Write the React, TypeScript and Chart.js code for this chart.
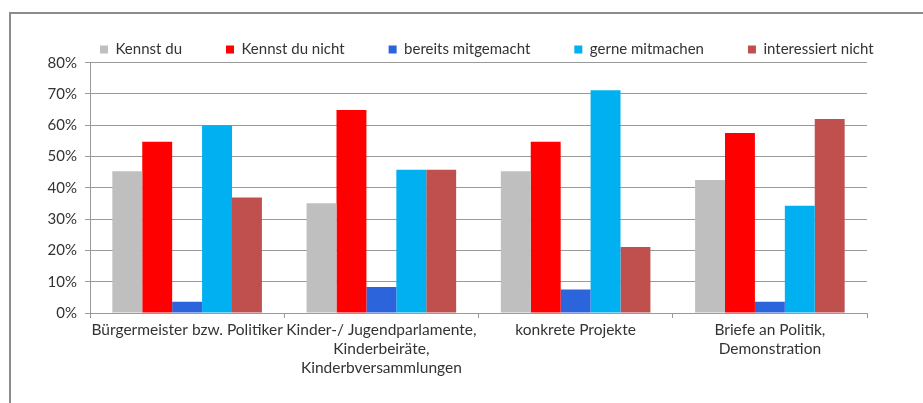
import React, { useEffect, useRef } from "react";
import { Chart, registerables } from "chart.js";

Chart.register(...registerables);

const categories: (string | string[])[] = [
  "Bürgermeister bzw. Politiker",
  ["Kinder-/ Jugendparlamente,", "Kinderbeiräte,", "Kinderbversammlungen"],
  "konkrete Projekte",
  ["Briefe an Politik,", "Demonstration"],
];

const kennstDu = [45.3, 35.1, 45.3, 42.5];
const kennstDuNicht = [54.7, 64.9, 54.7, 57.5];
const bereitsMitgemacht = [3.6, 8.3, 7.5, 3.6];
const gerneMitmachen = [60.0, 45.8, 71.2, 34.3];
const interessiertNicht = [36.9, 45.8, 21.1, 62.0];

const seriesNames = ["Kennst du", "Kennst du nicht", "bereits mitgemacht", "gerne mitmachen", "interessiert nicht"];
const seriesColors = ["#BFBFBF", "#FF0000", "#2C64DC", "#00B0F0", "#C0504D"];

const FONT = "Lato, 'Open Sans', sans-serif";
const TEXT = "#333333";
const GRID = "#9a9a9a";

const framePlugin = {
  id: "frame",
  beforeDraw(chart: any) {
    const ctx = chart.ctx;
    ctx.save();
    ctx.fillStyle = "#ffffff";
    ctx.fillRect(0, 0, chart.width, chart.height);
    ctx.strokeStyle = "#8c8c8c";
    ctx.lineWidth = 2;
    ctx.beginPath();
    ctx.moveTo(10, chart.height);
    ctx.lineTo(10, 13);
    ctx.lineTo(chart.width, 13);
    ctx.stroke();
    ctx.restore();
  },
  beforeLayout(chart: any) {
    const lg = chart.legend;
    if (lg && !lg.__patched) {
      const f = lg.fit;
      lg.fit = function () {
        const mw = this.maxWidth;
        this.maxWidth = 5000;
        f.call(this);
        this.maxWidth = mw;
        this.width = Math.min(this.width, mw);
        this.height = 64.7;
      };
      lg.__patched = true;
    }
  },
  afterLayout(chart: any) {
    const lg = chart.legend;
    if (lg) {
      lg.left = 56;
      lg.right = 5000;
    }
  },
};

export default function App() {
  const ref = useRef<HTMLCanvasElement | null>(null);
  useEffect(() => {
    if (!ref.current) return;
    const data = [kennstDu, kennstDuNicht, bereitsMitgemacht, gerneMitmachen, interessiertNicht];
    const chart = new Chart(ref.current, {
      type: "bar",
      data: {
        labels: categories as any,
        datasets: data.map((d, i) => ({
          label: seriesNames[i],
          data: d,
          backgroundColor: seriesColors[i],
          borderWidth: 0,
          categoryPercentage: 0.77,
          barPercentage: 1.0,
        })),
      },
      options: {
        animation: false,
        responsive: false,
        devicePixelRatio: 1,
        layout: { padding: { left: 38, right: 56, top: -2, bottom: 0 } },
        plugins: {
          legend: {
            position: "top",
            align: "start",
            labels: {
              boxWidth: 8,
              boxHeight: 8,
              padding: 44,
              color: TEXT,
              font: { family: FONT, size: 15 },
            },
          },
          tooltip: { enabled: false },
        },
        scales: {
          x: {
            afterFit: (s: any) => {
              s.height = 90;
            },
            grid: {
              display: true,
              offset: true,
              drawOnChartArea: false,
              tickLength: 5,
              color: GRID,
            },
            border: { display: true, color: GRID, width: 1 },
            ticks: {
              color: TEXT,
              font: { family: FONT, size: 15.5 },
              maxRotation: 0,
              autoSkip: false,
              padding: 3,
            },
          },
          y: {
            min: 0,
            max: 80,
            afterFit: (s: any) => {
              s.width = 52;
            },
            grid: { color: GRID, tickLength: 5 },
            border: { display: true, color: GRID, width: 1 },
            ticks: {
              stepSize: 10,
              padding: 8,
              color: TEXT,
              font: { family: FONT, size: 15 },
              callback: (v: any) => v + "%",
            },
          },
        },
      },
      plugins: [framePlugin],
    });
    return () => chart.destroy();
  }, []);
  return (
    <canvas
      ref={ref}
      width={923}
      height={403}
      style={{ position: "absolute", left: 0, top: 0, width: 923, height: 403 }}
    />
  );
}
